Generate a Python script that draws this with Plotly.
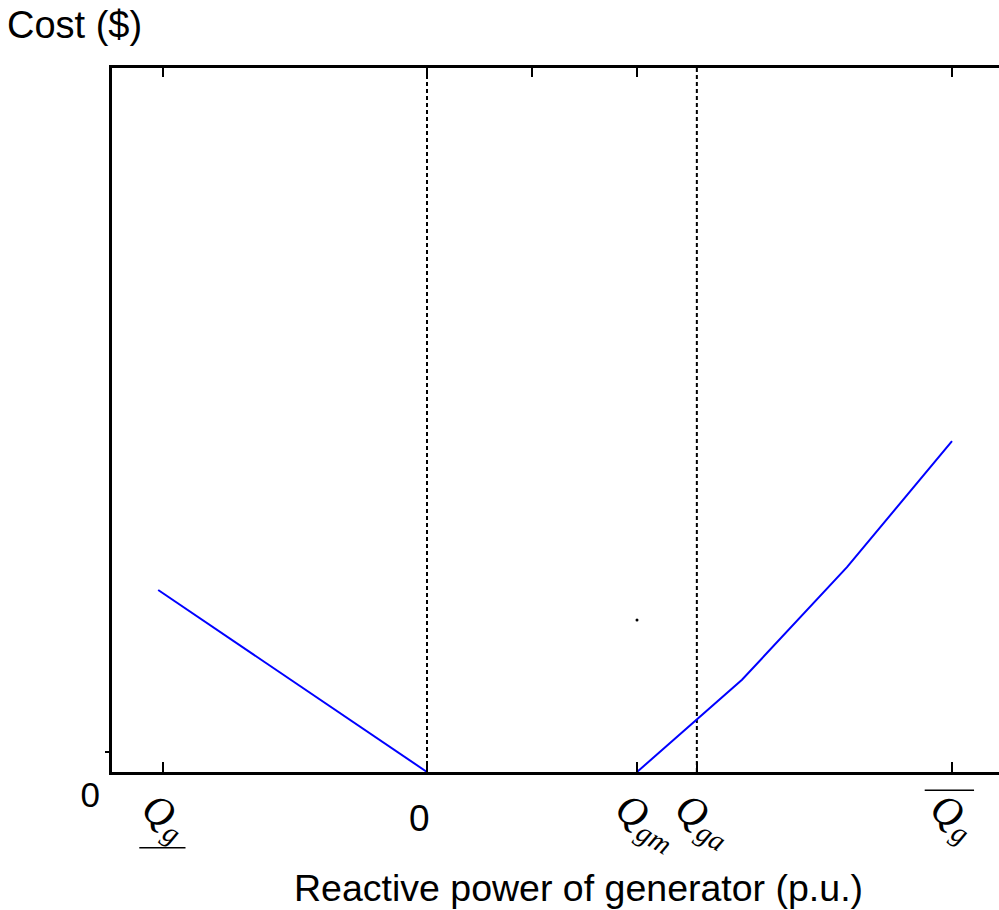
import plotly.graph_objects as go

# ---- data (x in p.u., y = cost) ----
Q_min = -2.51
Q_zero = 0.0
Q_gm = 2.0
Q_ga = 2.57
Q_max = 5.0

left_x = [-2.56, 0.0]
left_y = [2.585, 0.0]
right_x = [2.0, 3.0, 4.0, 5.0]
right_y = [0.0, 1.31, 2.91, 4.70]
dot_x = [2.0]
dot_y = [2.16]
vline_x = [Q_zero, Q_ga]

bottom_tickvals = [Q_min, Q_zero, Q_gm, Q_ga, Q_max]
bottom_ticktext = [
    "<i>Q</i><sub><i>g</i></sub>",
    "",
    "<i>Q</i><sub><i>gm</i></sub>",
    "<i>Q</i><sub><i>ga</i></sub>",
    "<i>Q</i><sub><i>g</i></sub>",
]
top_tickvals = [Q_min, Q_zero, 1.0, Q_gm, Q_max]

x_range = [-3.0, -3.0 + 887 / 105]
y_range = [0, 10]

fig = go.Figure()

for vx in vline_x:
    fig.add_trace(go.Scatter(x=[vx, vx], y=y_range, mode="lines",
                             line=dict(color="black", width=2, dash="4px,3px"),
                             hoverinfo="skip", showlegend=False))

fig.add_trace(go.Scatter(x=left_x, y=left_y, mode="lines",
                         line=dict(color="#0000ff", width=2), showlegend=False))
fig.add_trace(go.Scatter(x=right_x, y=right_y, mode="lines",
                         line=dict(color="#0000ff", width=2), showlegend=False))
fig.add_trace(go.Scatter(x=dot_x, y=dot_y, mode="markers",
                         marker=dict(color="black", size=3), showlegend=False))
# invisible trace for top axis
fig.add_trace(go.Scatter(x=[x_range[0]], y=[0], xaxis="x2", mode="markers",
                         marker=dict(opacity=0), hoverinfo="skip", showlegend=False))

# bars under / over Q_g labels
fig.add_shape(type="line", xref="x", yref="paper", x0=-2.74, x1=-2.30,
              y0=-0.1075, y1=-0.1075, line=dict(color="black", width=1.5))
fig.add_shape(type="line", xref="x", yref="paper", x0=4.74, x1=5.21,
              y0=-0.026, y1=-0.026, line=dict(color="black", width=1.5))

fig.update_layout(
    width=999, height=910,
    margin=dict(l=112, r=0, t=68, b=138),
    paper_bgcolor="white", plot_bgcolor="white",
    title=dict(text="Cost ($)", x=7 / 999, xanchor="left", xref="container",
               y=1 - 11 / 910, yanchor="top",
               font=dict(family="Liberation Sans, Arial", size=38, color="black")),
    xaxis=dict(range=x_range, showline=True, linewidth=3, linecolor="black",
               showgrid=False, zeroline=False,
               tickvals=bottom_tickvals, ticktext=bottom_ticktext,
               ticks="inside", ticklen=10, tickwidth=2, tickcolor="black",
               tickfont=dict(family="Liberation Serif, Times New Roman", size=41, color="black"),
               ticklabelstandoff=-6, ticklabelshift=-14),
    xaxis2=dict(range=x_range, overlaying="x", side="top", anchor="y",
                showline=True, linewidth=3, linecolor="black",
                showgrid=False, zeroline=False,
                tickvals=top_tickvals, showticklabels=False,
                ticks="inside", ticklen=9, tickwidth=2, tickcolor="black"),
    yaxis=dict(range=y_range, showline=True, linewidth=3, linecolor="black",
               showgrid=False, zeroline=False,
               tickvals=[0], ticktext=["0"], ticks="",
               tickfont=dict(family="Liberation Sans, Arial", size=35, color="black"),
               ticklabelshift=23, ticklabelstandoff=2,
               minor=dict(tickvals=[0.284], ticks="outside", ticklen=4,
                          tickwidth=2, tickcolor="black")),
    annotations=[
        dict(text="Reactive power of generator (p.u.)", xref="paper", yref="paper",
             x=(578 - 112) / 887, y=-(888 - 772) / 704,
             xanchor="center", yanchor="middle", showarrow=False,
             font=dict(family="Liberation Sans, Arial", size=37.5, color="black")),
        dict(text="0", xref="x", yref="paper", x=-0.07, y=-(818 - 772) / 704,
             xanchor="center", yanchor="middle", showarrow=False,
             font=dict(family="Liberation Sans, Arial", size=37, color="black")),
    ],
)

fig.write_html("out.html")
